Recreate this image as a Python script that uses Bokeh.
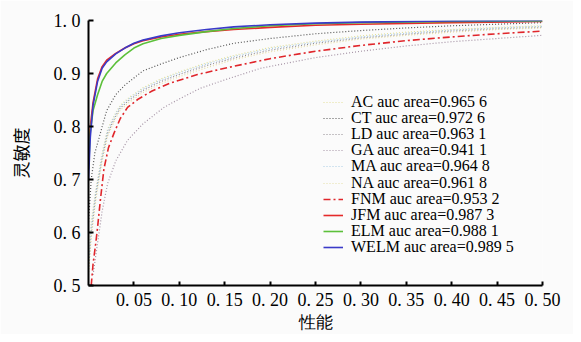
from bokeh.plotting import figure
from bokeh.models import Range1d, FixedTicker, Legend, LegendItem
from bokeh.embed import file_html
from bokeh.resources import INLINE

# ---------------- data ----------------
x_ticks = [0.05, 0.10, 0.15, 0.20, 0.25, 0.30, 0.35, 0.40, 0.45, 0.50]
x_tick_labels = ["0. 05", "0. 10", "0. 15", "0. 20", "0. 25", "0. 30", "0. 35", "0. 40", "0. 45", "0. 50"]
y_ticks = [0.5, 0.6, 0.7, 0.8, 0.9, 1.0]
y_tick_labels = ["0. 5", "0. 6", "0. 7", "0. 8", "0. 9", "1. 0"]

mid_x = [0.0, 0.003, 0.008, 0.015, 0.021, 0.03, 0.035, 0.045, 0.06, 0.08, 0.10, 0.13, 0.16, 0.20, 0.25, 0.30, 0.35, 0.40, 0.45, 0.50]
ac_y = [0.54, 0.62, 0.68, 0.75, 0.795, 0.826, 0.840, 0.855, 0.873, 0.890, 0.903, 0.920, 0.934, 0.949, 0.961, 0.971, 0.978, 0.983, 0.987, 0.990]
ld_y = [0.53, 0.60, 0.67, 0.74, 0.787, 0.820, 0.835, 0.850, 0.868, 0.885, 0.898, 0.915, 0.929, 0.944, 0.957, 0.967, 0.974, 0.980, 0.984, 0.987]
ma_y = [0.54, 0.61, 0.675, 0.745, 0.792, 0.824, 0.838, 0.853, 0.871, 0.888, 0.901, 0.918, 0.932, 0.947, 0.959, 0.969, 0.976, 0.982, 0.986, 0.989]
na_y = [0.52, 0.59, 0.66, 0.735, 0.782, 0.816, 0.831, 0.846, 0.864, 0.881, 0.894, 0.911, 0.926, 0.941, 0.954, 0.965, 0.972, 0.978, 0.983, 0.986]

ct_x = [0.0, 0.003, 0.007, 0.013, 0.02, 0.03, 0.04, 0.06, 0.08, 0.10, 0.13, 0.16, 0.20, 0.25, 0.30, 0.35, 0.40, 0.45, 0.50]
ct_y = [0.62, 0.70, 0.75, 0.787, 0.830, 0.860, 0.878, 0.905, 0.918, 0.930, 0.945, 0.957, 0.966, 0.975, 0.981, 0.986, 0.990, 0.993, 0.996]

ga_x = [0.005, 0.01, 0.015, 0.021, 0.03, 0.043, 0.06, 0.083, 0.10, 0.123, 0.15, 0.19, 0.25, 0.30, 0.35, 0.40, 0.45, 0.50]
ga_y = [0.52, 0.58, 0.64, 0.692, 0.735, 0.774, 0.805, 0.836, 0.852, 0.872, 0.888, 0.910, 0.930, 0.942, 0.952, 0.960, 0.966, 0.972]

fnm_x = [0.003, 0.005, 0.008, 0.01, 0.013, 0.017, 0.022, 0.028, 0.035, 0.043, 0.055, 0.07, 0.09, 0.12, 0.15, 0.20, 0.25, 0.30, 0.35, 0.40, 0.45, 0.50]
fnm_y = [0.50, 0.54, 0.58, 0.61, 0.66, 0.72, 0.76, 0.787, 0.815, 0.836, 0.852, 0.867, 0.882, 0.898, 0.910, 0.928, 0.942, 0.953, 0.962, 0.969, 0.975, 0.980]

top_x = [0.0, 0.002, 0.005, 0.01, 0.015, 0.02, 0.03, 0.04, 0.05, 0.06, 0.08, 0.10, 0.13, 0.16, 0.20, 0.25, 0.30, 0.40, 0.50]
welm_y = [0.70, 0.78, 0.84, 0.885, 0.910, 0.922, 0.937, 0.948, 0.957, 0.963, 0.971, 0.977, 0.983, 0.988, 0.992, 0.995, 0.997, 0.999, 1.000]
jfm_y = [0.74, 0.80, 0.845, 0.890, 0.913, 0.925, 0.938, 0.948, 0.956, 0.962, 0.969, 0.974, 0.979, 0.983, 0.987, 0.991, 0.993, 0.996, 0.998]
elm_y = [0.72, 0.79, 0.83, 0.860, 0.885, 0.900, 0.920, 0.935, 0.948, 0.956, 0.966, 0.972, 0.979, 0.985, 0.990, 0.994, 0.996, 0.998, 0.999]

labels = [
    "AC auc area=0.965 6", "CT auc area=0.972 6", "LD auc area=0.963 1",
    "GA auc area=0.941 1", "MA auc area=0.964 8", "NA auc area=0.961 8",
    "FNM auc area=0.953 2", "JFM auc area=0.987 3", "ELM auc area=0.988 1",
    "WELM auc area=0.989 5",
]

SERIF = "Liberation Serif"
CJK = "Noto Sans CJK SC"

p = figure(width=573, height=334, output_backend="svg", toolbar_location=None,
           x_range=Range1d(0, 0.5), y_range=Range1d(0.5, 1.0),
           min_border_left=88, min_border_right=31, min_border_top=20, min_border_bottom=49)
p.background_fill_color = "#fbfbfb"
p.border_fill_color = "#fbfbfb"
p.outline_line_color = None
p.grid.visible = False

series = [
    (mid_x, ac_y, "#e4e09a", "1 2", 1.2),
    (ct_x, ct_y, "#555555", "1 2", 1.2),
    (mid_x, ld_y, "#8f8a8f", "1 2", 1.2),
    (ga_x, ga_y, "#a593a5", "1 2", 1.2),
    (mid_x, ma_y, "#a9cde6", "1 2", 1.2),
    (mid_x, na_y, "#e6dfa8", "1 2", 1.2),
    (fnm_x, fnm_y, "#e0262b", "7 3 2 3", 1.6),
    (top_x, jfm_y, "#e52a2a", "solid", 1.6),
    (top_x, elm_y, "#5cc03a", "solid", 1.6),
    (top_x, welm_y, "#3a3ac8", "solid", 1.6),
]

# one single-item legend per row so the row pitch can match the reference
row_pitch = 16.1
first_row_bottom = 173
for i, ((xs, ys, col, dash, w), lab) in enumerate(zip(series, labels)):
    r = p.line(xs, ys, line_color=col, line_dash=dash, line_width=w)
    lg = Legend(items=[LegendItem(label=lab, renderers=[r])],
                location=(235, first_row_bottom - i * row_pitch))
    lg.background_fill_alpha = 0
    lg.border_line_color = None
    lg.padding = 0
    lg.margin = 0
    lg.spacing = 0
    lg.glyph_width = 20
    lg.glyph_height = 20
    lg.label_height = 20
    lg.label_standoff = 8
    lg.label_text_font = SERIF
    lg.label_text_font_size = "16px"
    lg.label_text_color = "black"
    p.add_layout(lg, "center")

for ax in (p.xaxis[0], p.yaxis[0]):
    ax.axis_line_width = 2
    ax.axis_line_color = "black"
    ax.major_tick_line_width = 2
    ax.major_tick_out = 0
    ax.minor_tick_line_color = None
    ax.major_label_text_font = SERIF
    ax.major_label_text_font_size = "18px"
    ax.major_label_text_color = "black"
    ax.axis_label_text_font_style = "normal"
    ax.axis_label_text_color = "black"

p.xaxis[0].ticker = FixedTicker(ticks=x_ticks)
p.xaxis[0].major_label_overrides = {t: l for t, l in zip(x_ticks, x_tick_labels)}
p.xaxis[0].major_tick_in = 4
p.xaxis[0].major_label_standoff = 4
p.xaxis[0].axis_label = "性能"
p.xaxis[0].axis_label_text_font = SERIF
p.xaxis[0].axis_label_text_font_size = "17px"
p.xaxis[0].axis_label_standoff = 0

p.yaxis[0].ticker = FixedTicker(ticks=y_ticks)
p.yaxis[0].major_label_overrides = {t: l for t, l in zip(y_ticks, y_tick_labels)}
p.yaxis[0].major_tick_in = 5
p.yaxis[0].major_label_standoff = 8
p.yaxis[0].axis_label = "灵敏度"
p.yaxis[0].axis_label_text_font = CJK
p.yaxis[0].axis_label_text_font_size = "17px"
p.yaxis[0].axis_label_standoff = 18

open("out.html", "w").write(file_html(p, INLINE))
